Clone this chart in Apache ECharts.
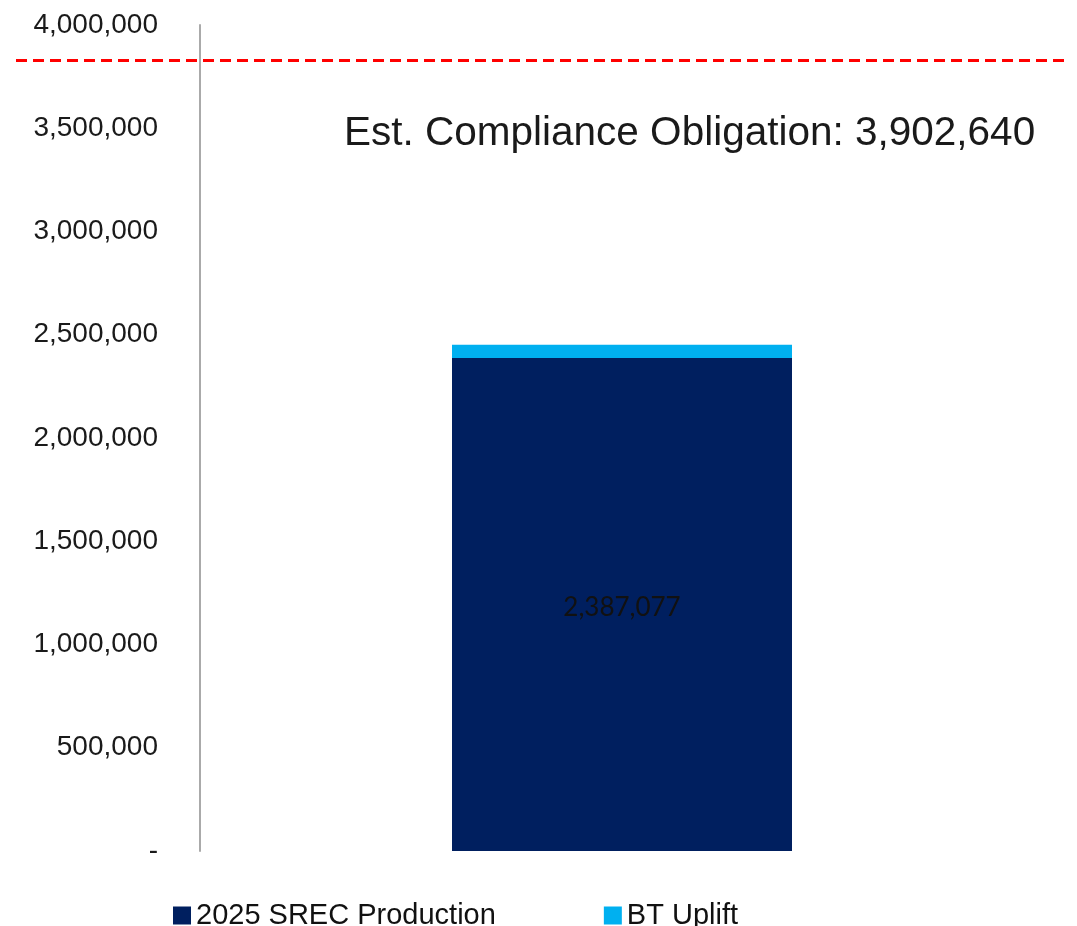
<!DOCTYPE html>
<html>
<head>
<meta charset="utf-8">
<title>SREC Production vs Compliance Obligation</title>
<script src="https://cdn.jsdelivr.net/npm/echarts@6/dist/echarts.min.js"></script>
<style>
  html, body { margin: 0; padding: 0; background: #fff; }
  #chart { width: 1077px; height: 926px; }
</style>
</head>
<body>
<div id="chart"></div>
<script>
// data
var categories = ['2025'];
var srecProduction = [2387077];
var btUplift = [65000];
var obligationLine = 3830000; // where the dashed line sits
var obligationText = 'Est. Compliance Obligation: 3,902,640';
var yMin = 0, yMax = 4000000, yStep = 500000;

var chart = echarts.init(document.getElementById('chart'));

var fmt = function (v) {
  return v === 0 ? '-' : v.toLocaleString('en-US');
};

var option = {
  animation: false,
  title: {
    text: obligationText,
    left: 339,
    top: 108,
    textStyle: { fontFamily: 'Liberation Sans', fontSize: 40.5, fontWeight: 'normal', color: '#1a1a1a' }
  },
  legend: {
    data: ['2025 SREC Production', 'BT Uplift'],
    left: 168,
    top: 896,
    itemWidth: 18,
    itemHeight: 18,
    itemGap: 108,
    icon: 'rect',
    textStyle: { fontFamily: 'Liberation Sans', fontSize: 29, color: '#111' }
  },
  grid: [
    { left: 200, right: 33, top: 25, bottom: 75 },
    { left: 16, right: 12, top: 25, bottom: 75 }
  ],
  xAxis: [
    {
      type: 'category',
      data: categories,
      gridIndex: 0,
      axisLine: { show: false },
      axisTick: { show: false },
      axisLabel: { show: false }
    },
    { type: 'value', gridIndex: 1, min: 0, max: 1, show: false }
  ],
  yAxis: [
    {
      type: 'value',
      gridIndex: 0,
      min: yMin,
      max: yMax,
      interval: yStep,
      axisLine: { show: true, lineStyle: { color: '#aaaaaa', width: 2 } },
      axisTick: { show: false },
      splitLine: { show: false },
      axisLabel: {
        formatter: fmt,
        margin: 42,
        fontFamily: 'Liberation Sans',
        fontSize: 28,
        color: '#1a1a1a'
      }
    },
    { type: 'value', gridIndex: 1, min: yMin, max: yMax, show: false }
  ],
  series: [
    {
      name: '2025 SREC Production',
      type: 'bar',
      stack: 'total',
      barWidth: 340,
      data: srecProduction,
      itemStyle: { color: '#001F5F' },
      label: {
        show: true,
        position: 'inside',
        offset: [0, 3],
        formatter: function (p) { return p.value.toLocaleString('en-US'); },
        fontFamily: 'Lato',
        fontSize: 26,
        color: '#111'
      }
    },
    {
      name: 'BT Uplift',
      type: 'bar',
      stack: 'total',
      barWidth: 340,
      data: btUplift,
      itemStyle: { color: '#00B0F0' }
    },
    {
      name: 'obligation',
      type: 'line',
      xAxisIndex: 1,
      yAxisIndex: 1,
      data: [],
      markLine: {
        silent: true,
        symbol: 'none',
        label: { show: false },
        lineStyle: { color: '#ff0000', type: [11, 6], width: 3 },
        data: [{ yAxis: obligationLine }]
      }
    }
  ]
};

chart.setOption(option);
</script>
</body>
</html>
